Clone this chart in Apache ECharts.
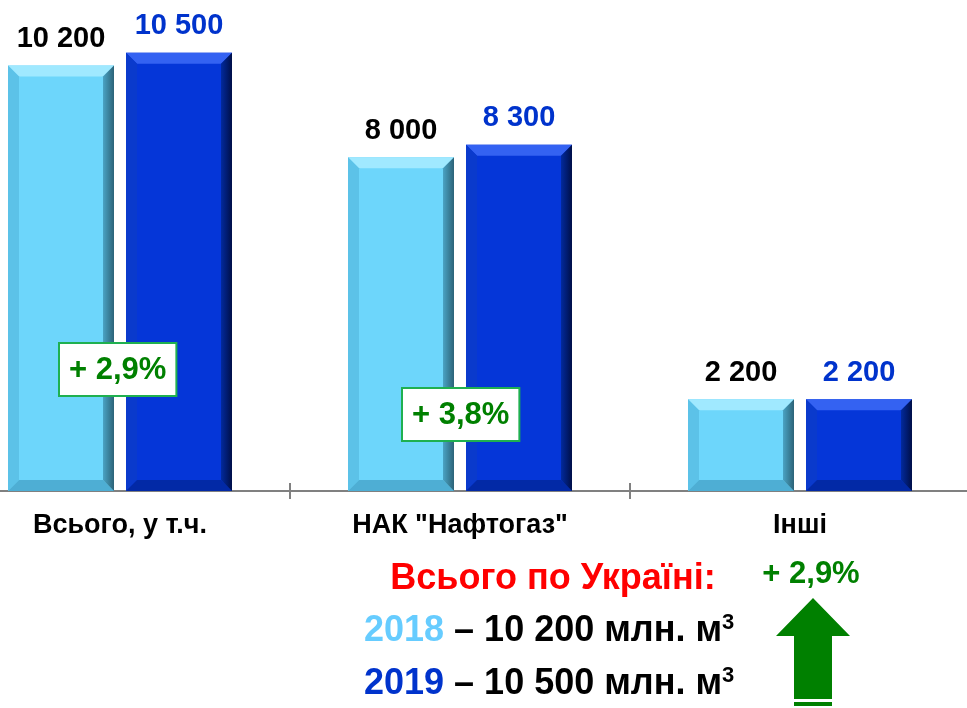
<!DOCTYPE html>
<html>
<head>
<meta charset="utf-8">
<script src="https://cdn.jsdelivr.net/npm/echarts@6/dist/echarts.min.js"></script>
<style>
  html, body { margin: 0; padding: 0; background: #fff; }
  #chart { width: 967px; height: 708px; }
</style>
</head>
<body>
<div id="chart"></div>
<script>
const categories = ['Всього, у т.ч.', 'НАК "Нафтогаз"', 'Інші']
const values2018 = [10200, 8000, 2200]
const values2019 = [10500, 8300, 2200]
const growthLabels = ['+ 2,9%', '+ 3,8%']
const totalGrowth = '+ 2,9%'

const FONT = '"Liberation Sans", Arial, sans-serif'
const BAR_W = 106
const BAR_SHIFT = 59
const BEVEL = 11

// пробіл як роздільник тисяч
function fmt(v) {
  return String(v).replace(/\B(?=(\d{3})+(?!\d))/g, ' ')
}

const palettes = [
  { base: '#6dd6fb', top: '#a0e9ff', left: '#5cc2e8', bottom: '#4eaed4', right: ['#4aa3c4', '#2c6378'], label: '#000000' },
  { base: '#0536d8', top: '#3462f2', left: '#0a3acc', bottom: '#0229a6', right: ['#022a9e', '#000f48'], label: '#0033cc' },
]

function bevelBar(seriesIdx) {
  const pal = palettes[seriesIdx]
  const sign = seriesIdx === 0 ? -1 : 1
  return (params, api) => {
    const i = api.value(0)
    const v = api.value(1)
    const topPt = api.coord([i, v])
    const basePt = api.coord([i, 0])
    const cx = topPt[0] + sign * BAR_SHIFT
    const x0 = cx - BAR_W / 2
    const x1 = cx + BAR_W / 2
    const y0 = topPt[1]
    const y1 = basePt[1]
    const b = BEVEL
    return {
      type: 'group',
      children: [
        { type: 'rect', shape: { x: x0, y: y0, width: BAR_W, height: y1 - y0 }, style: { fill: pal.base } },
        { type: 'polygon', shape: { points: [[x0, y0], [x1, y0], [x1 - b, y0 + b], [x0 + b, y0 + b]] }, style: { fill: pal.top } },
        { type: 'polygon', shape: { points: [[x0, y0], [x0 + b, y0 + b], [x0 + b, y1 - b], [x0, y1]] }, style: { fill: pal.left } },
        { type: 'polygon', shape: { points: [[x0, y1], [x1, y1], [x1 - b, y1 - b], [x0 + b, y1 - b]] }, style: { fill: pal.bottom } },
        {
          type: 'polygon',
          shape: { points: [[x1, y0], [x1, y1], [x1 - b, y1 - b], [x1 - b, y0 + b]] },
          style: {
            fill: new echarts.graphic.LinearGradient(0, 0, 1, 0, [
              { offset: 0, color: pal.right[0] },
              { offset: 1, color: pal.right[1] },
            ]),
          },
        },
        {
          type: 'text',
          style: {
            text: fmt(v),
            x: cx,
            y: y0 - 12,
            align: 'center',
            verticalAlign: 'bottom',
            fill: pal.label,
            font: 'bold 29px ' + FONT,
          },
        },
      ],
    }
  }
}

const chart = echarts.init(document.getElementById('chart'))

const boxStyle = {
  fill: '#008000',
  font: 'bold 31px ' + FONT,
  align: 'left',
  verticalAlign: 'top',
  backgroundColor: '#ffffff',
  borderColor: '#1fb050',
  borderWidth: 2,
  padding: [11, 9, 9, 9],
}

const bigLine = 'bold 36px ' + FONT
const supFont = 'bold 22px ' + FONT

const option = {
  animation: false,
  grid: { left: -50, right: -3, top: 32, bottom: 217, outerBoundsMode: 'none', containLabel: false },
  xAxis: [
    {
      type: 'category',
      data: categories,
      position: 'bottom',
      axisLine: { lineStyle: { color: '#808080', width: 2 } },
      axisTick: { show: true, length: 8, lineStyle: { color: '#808080', width: 2 } },
      axisLabel: { color: '#000', fontFamily: FONT, fontWeight: 'bold', fontSize: 27, margin: 21 },
    },
    {
      type: 'category',
      data: categories,
      position: 'bottom',
      axisLine: { show: false },
      axisTick: { show: true, inside: true, length: 8, lineStyle: { color: '#808080', width: 2 } },
      axisLabel: { show: false },
    },
  ],
  yAxis: { type: 'value', min: 0, max: 11000, show: false },
  series: [
    {
      name: '2018',
      type: 'custom',
      renderItem: bevelBar(0),
      data: values2018.map((v, i) => [i, v]),
    },
    {
      name: '2019',
      type: 'custom',
      renderItem: bevelBar(1),
      data: values2019.map((v, i) => [i, v]),
    },
  ],
  graphic: [
    { type: 'text', left: 58, top: 342, z: 10, style: Object.assign({}, boxStyle, { text: growthLabels[0] }) },
    { type: 'text', left: 401, top: 387, z: 10, style: Object.assign({}, boxStyle, { text: growthLabels[1] }) },
    {
      type: 'text',
      x: 553, y: 579,
      style: { text: 'Всього по Україні:', fill: '#ff0000', font: bigLine, align: 'center', verticalAlign: 'middle' },
    },
    {
      type: 'text',
      x: 811, y: 574,
      style: { text: totalGrowth, fill: '#008000', font: 'bold 31px ' + FONT, align: 'center', verticalAlign: 'middle' },
    },
    {
      type: 'text',
      x: 364, y: 631,
      style: {
        text: '{a|2018}{b| – 10 200 млн. м}{s|3}',
        verticalAlign: 'middle',
        rich: {
          a: { fill: '#66ccff', font: bigLine },
          b: { fill: '#000000', font: bigLine },
          s: { fill: '#000000', font: supFont, verticalAlign: 'top', padding: [0, 0, 16, 0] },
        },
      },
    },
    {
      type: 'text',
      x: 364, y: 684,
      style: {
        text: '{a|2019}{b| – 10 500 млн. м}{s|3}',
        verticalAlign: 'middle',
        rich: {
          a: { fill: '#0033cc', font: bigLine },
          b: { fill: '#000000', font: bigLine },
          s: { fill: '#000000', font: supFont, verticalAlign: 'top', padding: [0, 0, 16, 0] },
        },
      },
    },
    // стрілка вгору
    {
      type: 'polygon',
      shape: { points: [[813, 598], [850, 636], [832, 636], [832, 699], [794, 699], [794, 636], [776, 636]] },
      style: { fill: '#008000' },
    },
    { type: 'rect', shape: { x: 794, y: 702, width: 38, height: 4 }, style: { fill: '#008000' } },
  ],
}

chart.setOption(option)
</script>
</body>
</html>
